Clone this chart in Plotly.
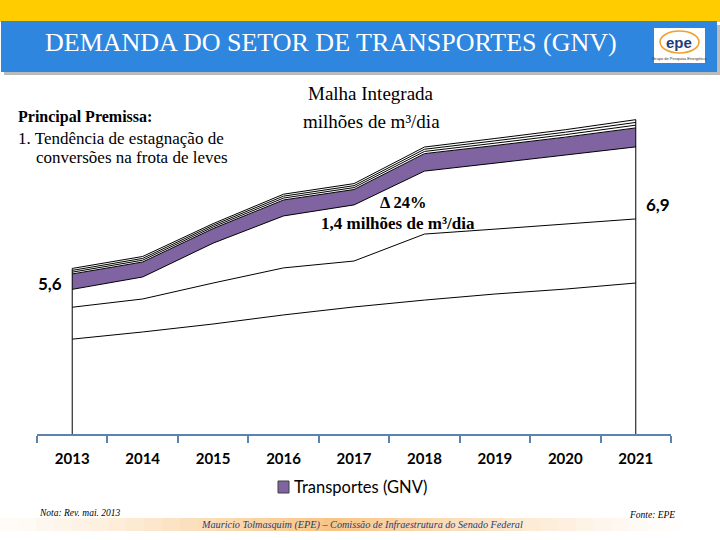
import plotly.graph_objects as go

# ---------------- data ----------------
years = ["2013", "2014", "2015", "2016", "2017", "2018", "2019", "2020", "2021"]
camada1 = [34.5, 37.1, 40.0, 43.3, 46.2, 48.7, 50.9, 52.7, 54.9]
camada2 = [11.6, 12.0, 14.9, 17.1, 16.7, 24.0, 23.6, 23.6, 23.3]
camada3 = [6.5, 8.0, 14.5, 18.9, 20.4, 22.9, 24.0, 25.1, 26.2]
gnv = [5.6, 5.45, 5.3, 5.8, 5.6, 6.35, 6.4, 6.55, 6.9]
camada5 = [0.65, 0.65, 0.6, 0.7, 0.7, 0.8, 0.85, 0.9, 1.0]
camada6 = [0.65, 0.65, 0.6, 0.7, 0.7, 0.8, 0.85, 0.9, 1.0]
camada7 = [0.7, 0.7, 0.6, 0.7, 0.75, 0.8, 0.85, 0.9, 1.0]

layers = [
    ("Camada 1", camada1, "white"),
    ("Camada 2", camada2, "white"),
    ("Camada 3", camada3, "white"),
    ("Transportes (GNV)", gnv, "#8064A2"),
    ("Camada 5", camada5, "white"),
    ("Camada 6", camada6, "white"),
    ("Camada 7", camada7, "white"),
]

totals = [sum(v) for v in zip(*[l[1] for l in layers])]

# ---------------- geometry ----------------
W_PX, H_PX = 720, 540
L, R, T, B = 37, 49, 100, 106
PW = W_PX - L - R
PH = H_PX - T - B
Y_MAX = PH / 2.75


def px(xp):
    return (xp - L) / PW


def py(yp):
    return (H_PX - B - yp) / PH


fig = go.Figure()
for name, vals, color in layers:
    fig.add_trace(go.Scatter(
        x=years, y=vals, name=name, stackgroup="s", mode="lines",
        line=dict(color="black", width=1), fillcolor=color,
        showlegend=False, hoverinfo="skip",
    ))

# vertical edges of the area at the first and last year
for i in (0, len(years) - 1):
    fig.add_trace(go.Scatter(
        x=[years[i], years[i]], y=[0, totals[i]], mode="lines",
        line=dict(color="black", width=1), showlegend=False, hoverinfo="skip",
    ))

AX = "#5B83AE"
fig.update_xaxes(
    type="category", range=[-0.5, len(years) - 0.5],
    showline=True, linecolor=AX, linewidth=2,
    ticks="outside", tickson="boundaries", ticklen=7, tickwidth=2, tickcolor=AX,
    tickfont=dict(family="Lato", size=15, color="black", weight="bold"),
    ticklabelstandoff=10, showgrid=False, zeroline=False, fixedrange=True,
)
fig.update_yaxes(visible=False, range=[0, Y_MAX], showgrid=False, zeroline=False,
                 fixedrange=True)

shapes = []
# header: yellow stripe and blue band
shapes.append(dict(type="rect", xref="paper", yref="paper",
                   x0=px(0), x1=px(720), y0=py(0), y1=py(22),
                   fillcolor="#FFCC00", line=dict(width=0), layer="below"))
shapes.append(dict(type="rect", xref="paper", yref="paper",
                   x0=px(4), x1=px(720), y0=py(25), y1=py(75),
                   fillcolor="rgba(60,60,60,0.35)", line=dict(width=0), layer="below"))
shapes.append(dict(type="rect", xref="paper", yref="paper",
                   x0=px(1), x1=px(717), y0=py(21), y1=py(72),
                   fillcolor="#2E86DF", line=dict(width=0), layer="below"))
# logo box
shapes.append(dict(type="rect", xref="paper", yref="paper",
                   x0=px(654), x1=px(705), y0=py(28), y1=py(63),
                   fillcolor="white", line=dict(width=0)))
shapes.append(dict(type="circle", xref="paper", yref="paper",
                   x0=px(660), x1=px(699), y0=py(31), y1=py(53),
                   fillcolor="rgba(0,0,0,0)", line=dict(color="#F0A030", width=1.5)))
# legend swatch
shapes.append(dict(type="rect", xref="paper", yref="paper",
                   x0=px(278), x1=px(289), y0=py(481), y1=py(493),
                   fillcolor="#8064A2", line=dict(color="#3F3F3F", width=1)))
# footer gradient band
n = 40
for k in range(n):
    x0 = 720 * k / n
    x1 = 720 * (k + 1) / n
    c = (x0 + x1) / 2
    a = max(0.0, 1 - abs(c - 330) / 360) ** 1.3
    shapes.append(dict(type="rect", xref="paper", yref="paper",
                       x0=px(x0), x1=px(x1), y0=py(518), y1=py(531),
                       fillcolor=f"rgba(247,190,120,{a*0.9:.3f})", line=dict(width=0),
                       layer="below"))

SERIF = "Liberation Serif"
anns = []


def ann(text, x, y, size, family=SERIF, color="black", xanchor="center", bold=False):
    anns.append(dict(text=f"<b>{text}</b>" if bold else text, x=px(x), y=py(y),
                     xref="paper", yref="paper", showarrow=False,
                     xanchor=xanchor, yanchor="middle",
                     font=dict(family=family, size=size, color=color)))


ann("DEMANDA DO SETOR DE TRANSPORTES (GNV)", 331, 42, 26, color="white")
ann("epe", 679, 42, 15, family="Liberation Sans", color="#1F3D7A", bold=True)
ann("Grupo de Pesquisa Energética", 679, 58, 4, family="Liberation Sans", color="#333333")
ann("Malha Integrada", 371, 93, 19)
ann("milhões de m³/dia", 371, 121, 19)
ann("Principal Premissa:", 16, 117, 16, xanchor="left", bold=True)
ann("1. Tendência de estagnação de", 16, 138, 17, xanchor="left")
ann("conversões na frota de leves", 34, 157, 17, xanchor="left")
ann("Δ 24%", 403, 202, 16.5, bold=True)
ann("1,4 milhões de m³/dia", 398, 223, 17, bold=True)
ann("5,6", 50, 283, 17, family="Lato", bold=True)
ann("6,9", 658, 204, 17, family="Lato", bold=True)
ann("Transportes (GNV)", 292, 487, 16.5, family="Lato", xanchor="left")
ann("<i>Nota: Rev. mai. 2013</i>", 37, 513, 9.5, xanchor="left")
ann("<i>Fonte: EPE</i>", 677, 515, 9.5, xanchor="right")
ann("<i>Mauricio Tolmasquim (EPE) – Comissão de Infraestrutura do Senado Federal</i>",
    362, 525, 10.2, color="#1F3D7A")

fig.update_layout(
    width=W_PX, height=H_PX,
    margin=dict(l=L, r=R, t=T, b=B),
    paper_bgcolor="white", plot_bgcolor="white",
    shapes=shapes, annotations=anns,
    showlegend=False,
)

fig.write_html("out.html", config={"displayModeBar": False, "staticPlot": True},
               post_script="document.body.style.margin='0';")
